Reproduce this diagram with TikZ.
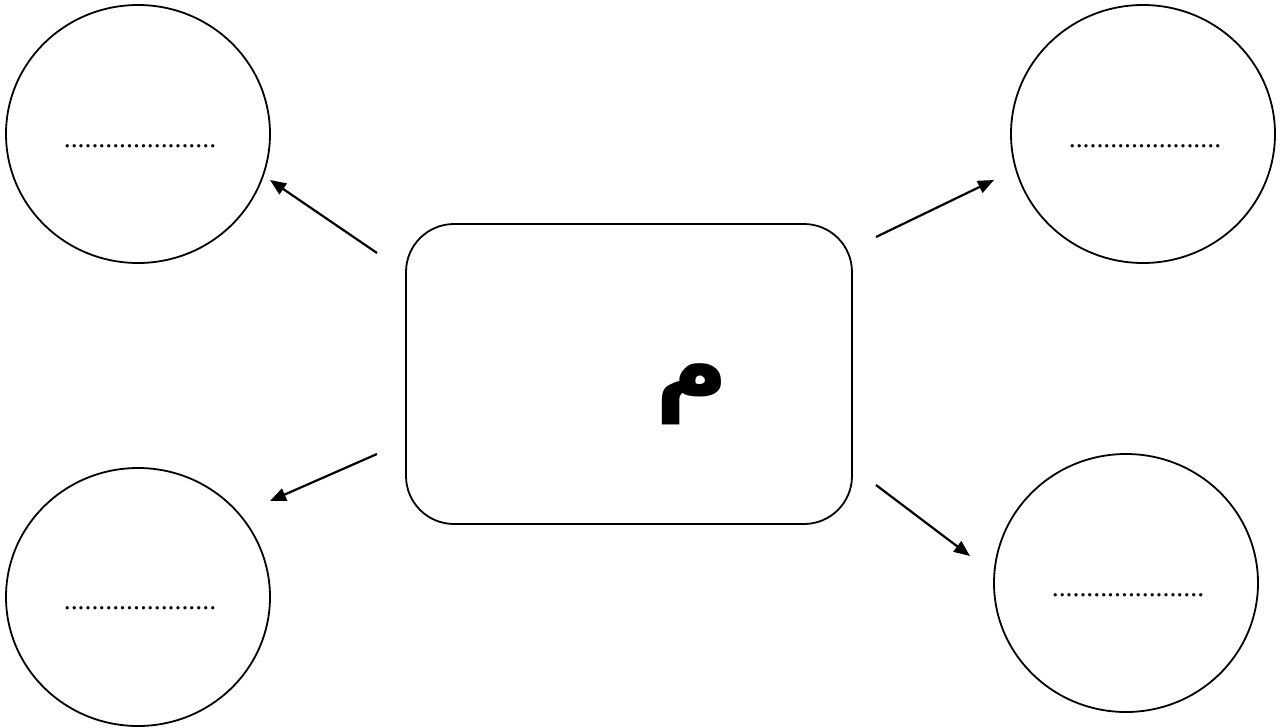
\documentclass[tikz,border=0pt]{standalone}
\usepackage{fontspec}
\setmainfont{Liberation Serif}
\newfontfamily\arabicfont[Script=Arabic]{DejaVu Sans}
\TeXXeTstate=1
\usetikzlibrary{arrows.meta,shapes.geometric}
\begin{document}
\begin{tikzpicture}[x=1pt,y=-1pt,
  bubble/.style={draw,line width=1.8pt,ellipse,minimum width=264pt,minimum height=258pt,inner sep=0pt},
  dotsnode/.style={inner sep=0pt,anchor=base,font=\fontsize{27.7}{30}\selectfont},
  arr/.style={line width=2.2pt,-{Triangle[length=16pt,width=13pt]}},
  centerbox/.style={draw,line width=1.8pt,rounded corners=48pt}]
\useasboundingbox (0,0) rectangle (1288,728);
\node[bubble] (tl) at (138,134) {};
\node[bubble] (bl) at (138,597) {};
\node[bubble] (tr) at (1143,134) {};
\node[bubble] (br) at (1126,583) {};
\node[dotsnode] (dtl) at (140,147) {......................};
\node[dotsnode] (dbl) at (140,609) {......................};
\node[dotsnode] (dtr) at (1145,147) {......................};
\node[dotsnode] (dbr) at (1128,596) {......................};
\draw[centerbox] (406,224) rectangle (852,524);
\node[inner sep=0pt] (m) at (692,394) {\fontsize{100}{105}\selectfont\arabicfont\bfseries\beginR م\endR};
\coordinate (a1) at (377,253); \coordinate (e1) at (270,180);
\coordinate (a2) at (377,454); \coordinate (e2) at (270,501);
\coordinate (a3) at (876,237); \coordinate (e3) at (994,180);
\coordinate (a4) at (876,485); \coordinate (e4) at (970,556);
\draw[arr] (a1) -- (e1);
\draw[arr] (a2) -- (e2);
\draw[arr] (a3) -- (e3);
\draw[arr] (a4) -- (e4);
\end{tikzpicture}
\end{document}
